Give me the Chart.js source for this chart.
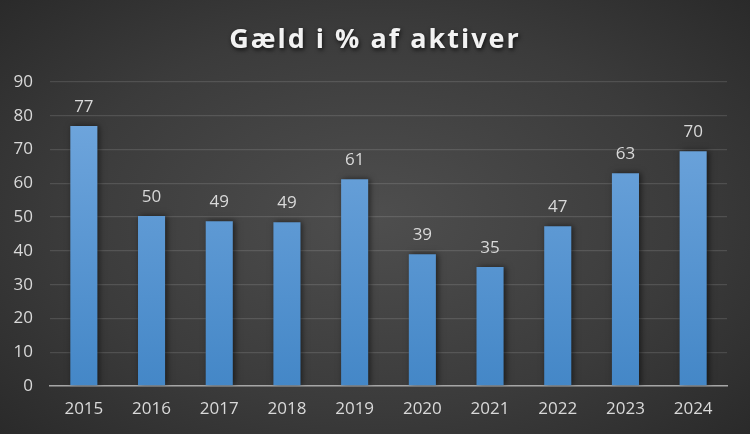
<!DOCTYPE html>
<html>
<head>
<meta charset="utf-8">
<script src="https://cdn.jsdelivr.net/npm/chart.js@4.4.1/dist/chart.umd.min.js"></script>
<style>
  html, body { margin: 0; padding: 0; }
  body {
    width: 750px; height: 434px; overflow: hidden;
    background: radial-gradient(ellipse 75% 80% at 50% 50%, #4e4e4e 0%, #3b3b3b 55%, #262626 100%);
  }
  #wrap { position: relative; width: 750px; height: 434px; }
</style>
</head>
<body>
<div id="wrap"><canvas id="chart" width="750" height="434"></canvas></div>
<script>
// Gæld i % af aktiver — søjler pr. år

const titel = 'Gæld i % af aktiver';
const aar = ['2015', '2016', '2017', '2018', '2019', '2020', '2021', '2022', '2023', '2024'];
const gaeld = [77, 50.3, 48.8, 48.5, 61.2, 39, 35.2, 47.3, 63, 69.5];
const yTicks = [0, 10, 20, 30, 40, 50, 60, 70, 80, 90];

const FONT = '"Open Sans", "DejaVu Sans", sans-serif';
const TXT = '#d9d9d9';

// titel med lidt spærring og skygge
const titlePlugin = {
  id: 'titel',
  afterDraw(chart) {
    const ctx = chart.ctx;
    ctx.save();
    ctx.font = 'bold 27px ' + FONT;
    ctx.letterSpacing = '2px';
    ctx.fillStyle = '#f2f2f2';
    ctx.textAlign = 'center';
    ctx.textBaseline = 'alphabetic';
    ctx.shadowColor = 'rgba(0,0,0,0.7)';
    ctx.shadowBlur = 4;
    ctx.shadowOffsetX = 1;
    ctx.shadowOffsetY = 2;
    ctx.fillText(titel, 375, 48);
    ctx.restore();
  }
};

// skygge bag søjlerne
const shadowPlugin = {
  id: 'skygge',
  beforeDatasetsDraw(chart) {
    const ctx = chart.ctx;
    ctx.save();
    ctx.shadowColor = 'rgba(0,0,0,0.55)';
    ctx.shadowBlur = 6;
    ctx.shadowOffsetX = 2;
    ctx.shadowOffsetY = 0;
  },
  afterDatasetsDraw(chart) {
    chart.ctx.restore();
  }
};

// værdier over søjlerne
const labelPlugin = {
  id: 'etiketter',
  afterDatasetsDraw(chart) {
    const ctx = chart.ctx;
    const meta = chart.getDatasetMeta(0);
    ctx.save();
    ctx.font = '17px ' + FONT;
    ctx.fillStyle = TXT;
    ctx.textAlign = 'center';
    ctx.textBaseline = 'alphabetic';
    meta.data.forEach((bar, i) => {
      ctx.fillText(Math.round(gaeld[i]).toString(), bar.x, bar.y - 14);
    });
    ctx.restore();
  }
};

const ctx = document.getElementById('chart').getContext('2d');

const barFill = (c) => {
  const area = c.chart.chartArea;
  if (!area) return '#5b9bd5';
  const g = c.chart.ctx.createLinearGradient(0, area.top, 0, area.bottom);
  g.addColorStop(0, '#74a9df');
  g.addColorStop(1, '#4487c7');
  return g;
};

new Chart(ctx, {
  type: 'bar',
  data: {
    labels: aar,
    datasets: [{
      label: titel,
      data: gaeld,
      backgroundColor: barFill,
      borderWidth: 0,
      barPercentage: 0.4,
      categoryPercentage: 1.0
    }]
  },
  options: {
    responsive: false,
    animation: false,
    layout: { padding: { top: 82, right: 23, bottom: 0, left: 0 } },
    plugins: {
      legend: { display: false },
      title: { display: false },
      tooltip: { enabled: false }
    },
    scales: {
      x: {
        grid: { display: false, drawTicks: false },
        border: { display: true, color: '#a6a6a6', width: 1.5 },
        ticks: { color: TXT, font: { family: FONT, size: 17 }, padding: 13 },
        afterFit: (s) => { s.height = 48; }
      },
      y: {
        min: 0,
        max: 90,
        afterBuildTicks: (s) => { s.ticks = yTicks.map(v => ({ value: v })); },
        grid: { color: 'rgba(255,255,255,0.12)', lineWidth: 1.3, drawTicks: false },
        border: { display: false },
        ticks: { color: TXT, font: { family: FONT, size: 17 }, padding: 17 },
        afterFit: (s) => { s.width = 50; }
      }
    }
  },
  plugins: [shadowPlugin, labelPlugin, titlePlugin]
});
</script>
</body>
</html>
